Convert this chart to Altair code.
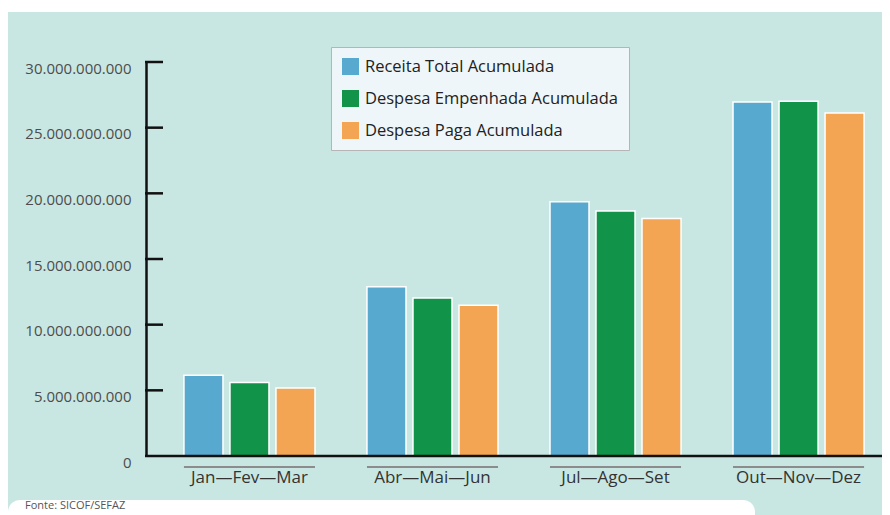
import altair as alt
import pandas as pd

groups = ["Jan—Fev—Mar", "Abr—Mai—Jun", "Jul—Ago—Set", "Out—Nov—Dez"]
series = ["Receita Total Acumulada", "Despesa Empenhada Acumulada", "Despesa Paga Acumulada"]
receita = [6.15e9, 12.89e9, 19.35e9, 26.96e9]
empenhada = [5.59e9, 12.03e9, 18.66e9, 27.01e9]
paga = [5.18e9, 11.48e9, 18.08e9, 26.12e9]
colors = ["#58a9cf", "#11934a", "#f3a553"]
tick_values = [0, 5e9, 10e9, 15e9, 20e9, 25e9, 30e9]
fonte = "Fonte: SICOF/SEFAZ"

rows = []
for s, vals in zip(series, [receita, empenhada, paga]):
    for g, v in zip(groups, vals):
        rows.append({"group": g, "serie": s, "valor": v})
df = pd.DataFrame(rows)
dfg = pd.DataFrame({"group": groups})
dft = pd.DataFrame({"valor": tick_values[1:]})
one = pd.DataFrame({"a": [0]})

W, H = 716, 394
FONT = "Open Sans"

xscale = alt.Scale(domain=groups, paddingInner=0.284, paddingOuter=0.098)
yscale = alt.Scale(domain=[0, 30e9], nice=False)

footer = alt.Chart(one).mark_rect(color="white", cornerRadius=12).encode(
    x=alt.value(-158), x2=alt.value(589), y=alt.value(438), y2=alt.value(470)
)
topstrip = alt.Chart(one).mark_rect(color="white").encode(
    x=alt.value(-158), x2=alt.value(W), y=alt.value(-54), y2=alt.value(-50)
)

bars = alt.Chart(df).mark_bar(stroke="white", strokeWidth=1.5).encode(
    x=alt.X("group:N", sort=groups, scale=xscale,
            axis=alt.Axis(title=None, domain=False, ticks=False, labelAngle=0,
                          labelPadding=13, labelFont=FONT, labelFontSize=17,
                          labelColor="#333333")),
    xOffset=alt.XOffset("serie:N", sort=series,
                        scale=alt.Scale(domain=series, paddingInner=0.152, paddingOuter=0)),
    y=alt.Y("valor:Q", scale=yscale,
            axis=alt.Axis(title=None, offset=20, domainColor="#111111", domainWidth=2.5,
                          ticks=False, grid=False, labelPadding=15, labelOffset=6,
                          labelFont=FONT, labelFontSize=15, labelColor="#4d4d4d",
                          values=tick_values,
                          labelExpr="replace(format(datum.value, ','), regexp(',', 'g'), '.')")),
    color=alt.Color("serie:N", sort=series,
                    scale=alt.Scale(domain=series, range=colors),
                    legend=alt.Legend(title=None, orient="none", legendX=165, legendY=-15,
                                      fillColor="#eef6f9", strokeColor="#b5b5b5",
                                      padding=11, symbolType="square", symbolSize=289,
                                      symbolStrokeWidth=0, labelFont=FONT, labelFontSize=16.5,
                                      labelColor="#222222", rowPadding=15, labelOffset=6,
                                      labelLimit=500)),
)

overline = alt.Chart(dfg).mark_bar(color="#8c8c8c").encode(
    x=alt.X("group:N", sort=groups, scale=xscale),
    y=alt.value(404), y2=alt.value(406)
)

yticks = alt.Chart(dft).mark_rule(color="#111111", strokeWidth=2.5).encode(
    y=alt.Y("valor:Q", scale=yscale), x=alt.value(-21), x2=alt.value(-3)
)

xaxis = alt.Chart(one).mark_rule(color="#111111", strokeWidth=2.5).encode(
    y=alt.value(H), x=alt.value(-21), x2=alt.value(W)
)

note = alt.Chart(one).mark_text(align="left", baseline="middle", font=FONT,
                                fontSize=11, color="#555555", text=fonte).encode(
    x=alt.value(-141), y=alt.value(444)
)

chart = alt.layer(footer, topstrip, bars, overline, yticks, xaxis, note).properties(
    width=W, height=H,
    autosize=alt.AutoSizeParams(type="none"),
    padding={"left": 158, "top": 54, "right": 0, "bottom": 59},
    background="#c9e7e2",
).configure_view(stroke=None)

chart.save("out.html", embed_options={"renderer": "svg", "actions": False})
